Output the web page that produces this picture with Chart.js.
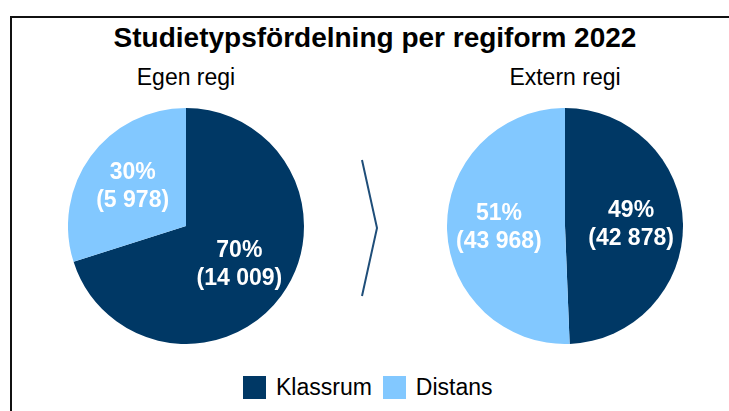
<!DOCTYPE html>
<html lang="sv">
<head>
<meta charset="utf-8">
<title>Studietypsfördelning per regiform 2022</title>
<script src="https://cdn.jsdelivr.net/npm/chart.js@4.4.1/dist/chart.umd.min.js"></script>
<style>
    html, body { margin: 0; padding: 0; background: #fff; }
    body { width: 729px; height: 411px; position: relative; overflow: hidden;
           font-family: "Liberation Sans", Arial, sans-serif; color: #000; }
    .frame { position: absolute; left: 10px; top: 16px; width: 740px; height: 420px;
             border-top: 2px solid #111; border-left: 2px solid #111; }
    .title { position: absolute; left: 10px; width: 730px; top: 22px; text-align: center;
             font-weight: bold; font-size: 28px; line-height: 32px; }
    .sub { position: absolute; width: 240px; top: 64px; text-align: center;
           font-size: 23px; line-height: 26px; }
    .pie { position: absolute; top: 108px; width: 236px; height: 236px; }
    #chevron { position: absolute; left: 355px; top: 155px; }
    #legend { position: absolute; top: 376px; left: 243px; display: flex; align-items: center;
              font-size: 23px; line-height: 23px; }
    #legend .box { width: 23px; height: 23px; display: inline-block; margin-right: 10px; }
    #legend .item { display: flex; align-items: center; margin-right: 11px; }
</style>
</head>
<body>
<div class="frame"></div>
<div class="title" id="title"></div>
<div class="sub" id="subLeft" style="left:66px"></div>
<div class="sub" id="subRight" style="left:445px"></div>
<div class="pie" style="left:68px"><canvas id="pieLeft"></canvas></div>
<div class="pie" style="left:447px"><canvas id="pieRight"></canvas></div>
<svg id="chevron" width="30" height="150">
    <polyline points="7,5 22,73 7,141" fill="none" stroke="#1f4e79" stroke-width="2"/>
</svg>
<div id="legend"></div>

<script>
const chartTitle = "Studietypsfördelning per regiform 2022";
const groups = ["Egen regi", "Extern regi"];
const categories = ["Klassrum", "Distans"];
const egenRegi = [14009, 5978];
const externRegi = [42878, 43968];
const colors = ["#003865", "#82c8ff"];

document.getElementById("title").textContent = chartTitle;
document.getElementById("subLeft").textContent = groups[0];
document.getElementById("subRight").textContent = groups[1];

// legend
const legend = document.getElementById("legend");
categories.forEach((name, i) => {
    const item = document.createElement("span");
    item.className = "item";
    const box = document.createElement("span");
    box.className = "box";
    box.style.background = colors[i];
    item.appendChild(box);
    item.appendChild(document.createTextNode(name));
    legend.appendChild(item);
});

function formatNumber(n) {
    return String(n).replace(/\B(?=(\d{3})+(?!\d))/g, " ");
}

// draws "70%" and "(14 009)" inside each slice
const sliceLabels = {
    id: "sliceLabels",
    afterDatasetsDraw(chart) {
        const ctx = chart.ctx;
        const meta = chart.getDatasetMeta(0);
        const values = chart.data.datasets[0].data;
        const total = values.reduce((a, b) => a + b, 0);
        ctx.save();
        ctx.fillStyle = "#fff";
        ctx.font = 'bold 23px "Liberation Sans", Arial, sans-serif';
        ctx.textAlign = "center";
        ctx.textBaseline = "middle";
        meta.data.forEach((arc, i) => {
            const mid = (arc.startAngle + arc.endAngle) / 2;
            const r = arc.outerRadius * 0.56;
            const x = arc.x + Math.cos(mid) * r;
            const y = arc.y + Math.sin(mid) * r;
            const pct = Math.round(values[i] / total * 100) + "%";
            ctx.fillText(pct, x, y - 14);
            ctx.fillText("(" + formatNumber(values[i]) + ")", x, y + 14);
        });
        ctx.restore();
    }
};

function makePie(id, values) {
    new Chart(document.getElementById(id), {
        type: "pie",
        data: {
            labels: categories,
            datasets: [{
                data: values,
                backgroundColor: colors,
                borderWidth: 0
            }]
        },
        options: {
            responsive: true,
            maintainAspectRatio: false,
            animation: false,
            layout: { padding: 0 },
            plugins: {
                legend: { display: false },
                tooltip: { enabled: false }
            }
        },
        plugins: [sliceLabels]
    });
}

makePie("pieLeft", egenRegi);
makePie("pieRight", externRegi);
</script>
</body>
</html>
